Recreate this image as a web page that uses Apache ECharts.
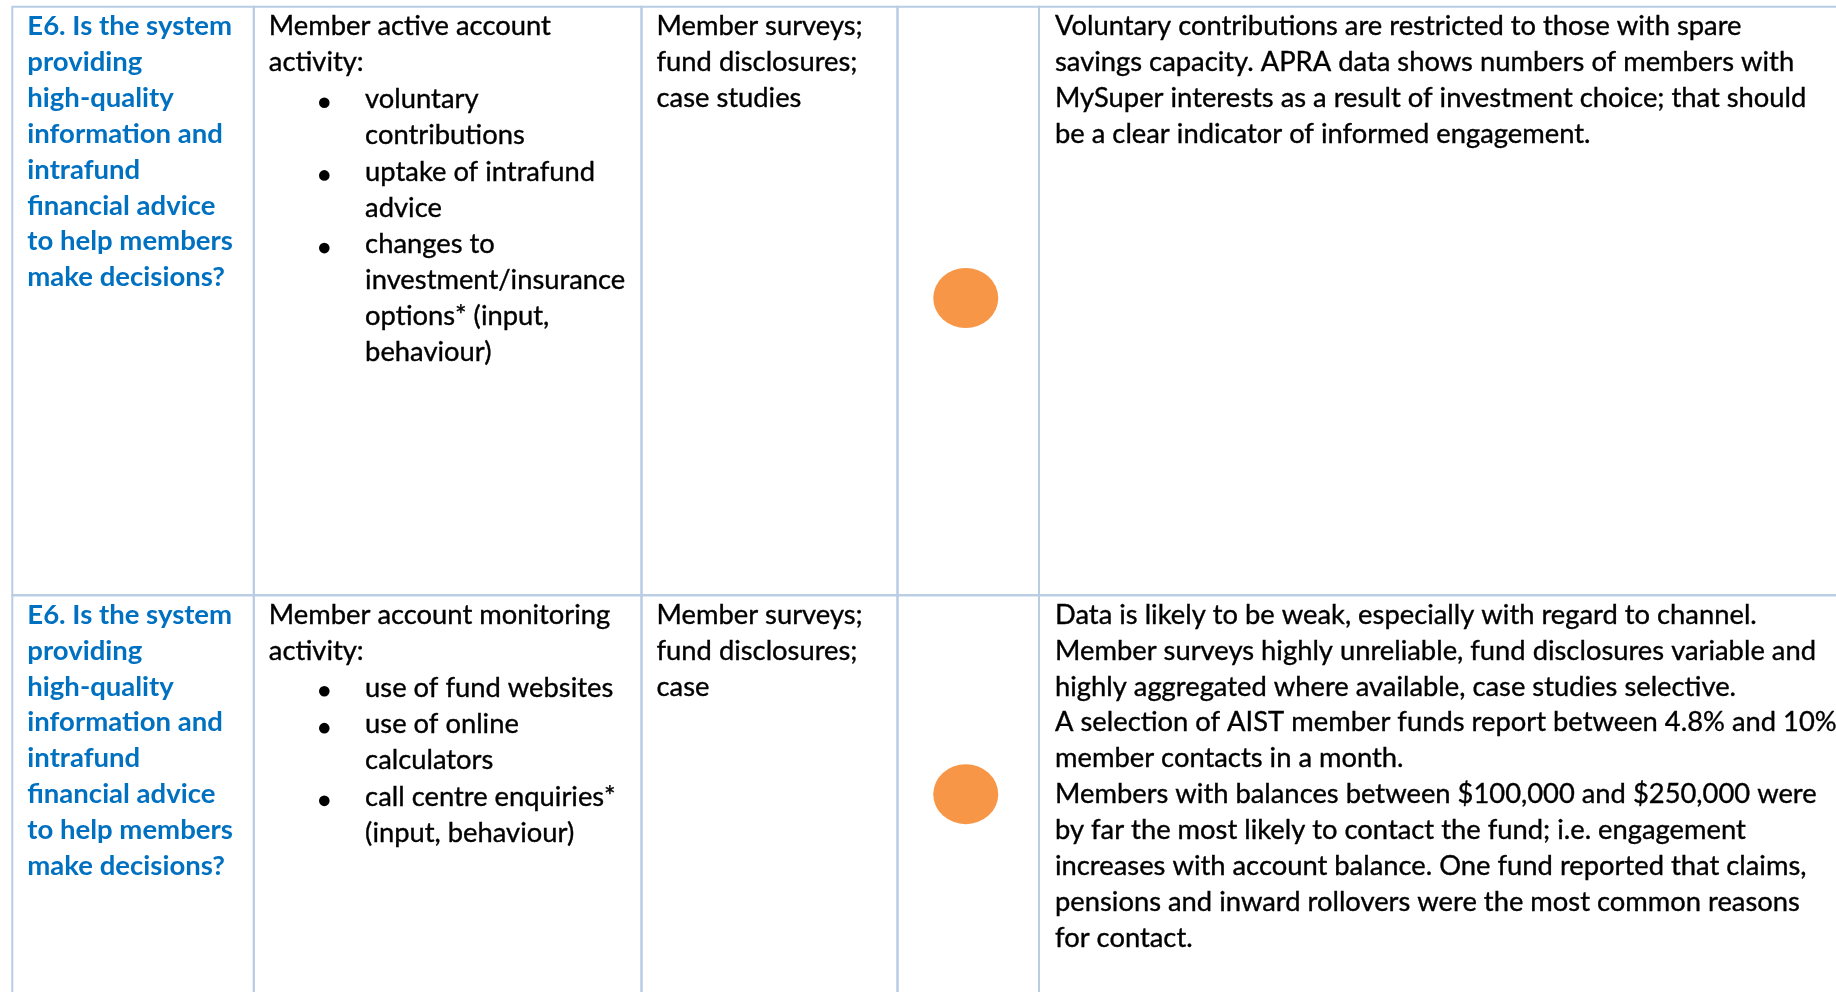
<!DOCTYPE html>
<html>
<head>
<meta charset="utf-8">
<script src="https://cdn.jsdelivr.net/npm/echarts@6/dist/echarts.min.js"></script>
<style>
html,body{margin:0;padding:0;background:#ffffff;}
#chart{width:1836px;height:992px;}
</style>
</head>
<body>
<div id="chart"></div>
<script>
// ---------------- DATA ----------------
const columnNames = ['Question', 'Indicator', 'Data source', 'Rating', 'Comment'];

const questionLines = [
  ['E6. Is the system', 'providing', 'high-quality', 'information and', 'intrafund', 'financial advice', 'to help members', 'make decisions?'],
  ['E6. Is the system', 'providing', 'high-quality', 'information and', 'intrafund', 'financial advice', 'to help members', 'make decisions?']
];

const indicatorIntro = [
  ['Member active account', 'activity:'],
  ['Member account monitoring', 'activity:']
];

const indicatorBullets = [
  [['voluntary', 'contributions'], ['uptake of intrafund', 'advice'], ['changes to', 'investment/insurance', 'options* (input,', 'behaviour)']],
  [['use of fund websites'], ['use of online', 'calculators'], ['call centre enquiries*', '(input, behaviour)']]
];

const sourceLines = [
  ['Member surveys;', 'fund disclosures;', 'case studies'],
  ['Member surveys;', 'fund disclosures;', 'case']
];

const ratings = ['Amber', 'Amber'];

const commentLines = [
  ['Voluntary contributions are restricted to those with spare',
   'savings capacity. APRA data shows numbers of members with',
   'MySuper interests as a result of investment choice; that should',
   'be a clear indicator of informed engagement.'],
  ['Data is likely to be weak, especially with regard to channel.',
   'Member surveys highly unreliable, fund disclosures variable and',
   'highly aggregated where available, case studies selective.',
   'A selection of AIST member funds report between 4.8% and 10%',
   'member contacts in a month.',
   'Members with balances between $100,000 and $250,000 were',
   'by far the most likely to contact the fund; i.e. engagement',
   'increases with account balance. One fund reported that claims,',
   'pensions and inward rollovers were the most common reasons',
   'for contact.']
];

// ---------------- LAYOUT / STYLE ----------------
const colEdges = [12.3, 253.8, 641.5, 897.5, 1039, 1960];
const rowEdges = [6.7, 595.3, 993];
const LINE_H = 35.85;
const FIRST_BASE = 30.3;
const PAD = 15;
const BULLET_DX = 70.5;
const BULLET_TEXT_DX = 111.3;
const ITEM_GAP = 1.0;
const FONT_FAMILY = 'Lato';
const FONT_SIZE = 26.4;
const BORDER = '#B8CCE4';
const BLUE = '#0070C0';
const TEXT = '#000000';
const AMBER = '#F79646';
const RATING_DX = -2.5;
const RATING_DY = [-3, 0];

// width calibration (Calibri-like metrics) via horizontal scale
const mctx = document.createElement('canvas').getContext('2d');
function measure(t, weight) {
  mctx.font = weight + ' ' + FONT_SIZE + 'px ' + FONT_FAMILY;
  return mctx.measureText(t).width;
}
const KX_REG = 686.5 / measure('Voluntary contributions are restricted to those with spare', 'normal');
const KX_BOLD = 205.5 / measure('to help members', 'bold');
const BASE_TO_MID = 0.387 * FONT_SIZE;

function textEl(x, baseline, str, bold, color) {
  return {
    type: 'text',
    x: x,
    y: baseline - BASE_TO_MID,
    scaleX: bold ? KX_BOLD : KX_REG,
    silent: true,
    style: {
      text: str,
      fill: color,
      stroke: bold ? null : color,
      lineWidth: bold ? 0 : 0.35,
      font: (bold ? 'bold ' : 'normal ') + FONT_SIZE + 'px ' + FONT_FAMILY,
      textAlign: 'left',
      textVerticalAlign: 'middle'
    }
  };
}

const cells = [];
for (let r = 0; r < questionLines.length; r++) {
  for (let c = 0; c < columnNames.length; c++) cells.push([c, r]);
}

function renderCell(params, api) {
  const c = api.value(0), r = api.value(1);
  const tl = api.coord([colEdges[c], rowEdges[r]]);
  const br = api.coord([colEdges[c + 1], rowEdges[r + 1]]);
  const children = [{
    type: 'rect',
    silent: true,
    shape: { x: tl[0], y: tl[1], width: br[0] - tl[0], height: br[1] - tl[1] },
    style: { fill: 'none', stroke: BORDER, lineWidth: 2 }
  }];
  const x0 = tl[0] + PAD;
  const base0 = tl[1] + FIRST_BASE;
  if (c === 0) {
    questionLines[r].forEach((s, i) => children.push(textEl(x0, base0 + i * LINE_H, s, true, BLUE)));
  } else if (c === 1) {
    let li = 0;
    indicatorIntro[r].forEach(s => { children.push(textEl(x0, base0 + li * LINE_H, s, false, TEXT)); li++; });
    indicatorBullets[r].forEach((item, k) => {
      item.forEach((s, j) => {
        const b = base0 + li * LINE_H + (k + 1) * ITEM_GAP;
        if (j === 0) {
          children.push({
            type: 'circle', silent: true,
            shape: { cx: tl[0] + BULLET_DX, cy: b - 7, r: 5.3 },
            style: { fill: TEXT }
          });
        }
        children.push(textEl(tl[0] + BULLET_TEXT_DX, b, s, false, TEXT));
        li++;
      });
    });
  } else if (c === 2) {
    sourceLines[r].forEach((s, i) => children.push(textEl(x0, base0 + i * LINE_H, s, false, TEXT)));
  } else if (c === 4) {
    commentLines[r].forEach((s, i) => children.push(textEl(x0 + 1, base0 + i * LINE_H, s, false, TEXT)));
  }
  return { type: 'group', children: children };
}

const ratingPoints = ratings.map((v, i) => ({
  name: v,
  value: [(colEdges[3] + colEdges[4]) / 2 + RATING_DX, (rowEdges[i] + rowEdges[i + 1]) / 2 + RATING_DY[i]]
}));

const chart = echarts.init(document.getElementById('chart'), null, { renderer: 'canvas' });
chart.setOption({
  animation: false,
  backgroundColor: '#ffffff',
  grid: { left: 0, right: 0, top: 0, bottom: 0 },
  xAxis: { type: 'value', min: 0, max: 1836, show: false },
  yAxis: { type: 'value', min: 0, max: 992, inverse: true, show: false },
  tooltip: { show: false },
  series: [
    {
      type: 'custom',
      name: 'table',
      data: cells,
      renderItem: renderCell,
      clip: false,
      silent: true
    },
    {
      type: 'scatter',
      name: 'rating',
      data: ratingPoints,
      symbol: 'circle',
      symbolSize: [65, 60],
      itemStyle: { color: AMBER, opacity: 1 },
      silent: true,
      z: 5
    }
  ]
});
</script>
</body>
</html>
